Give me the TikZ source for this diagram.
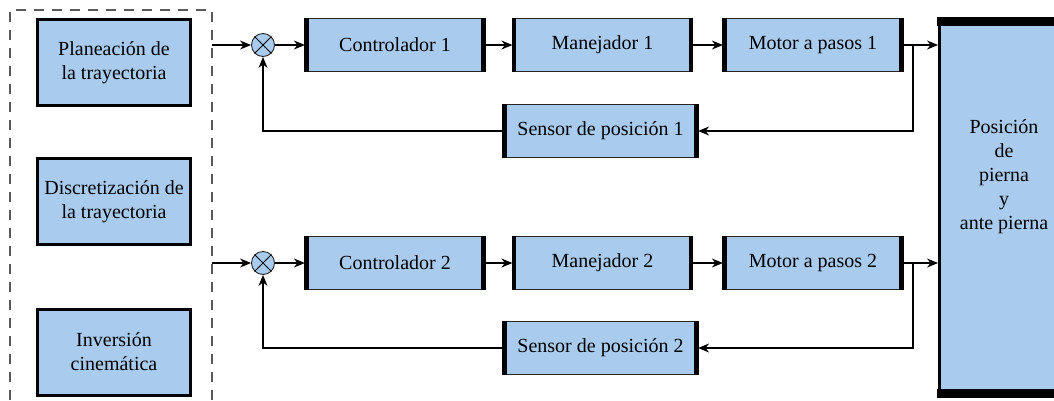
\documentclass[tikz,border=0pt]{standalone}
\usepackage{fontspec}
\setmainfont{Liberation Serif}
\usetikzlibrary{arrows.meta}
\definecolor{boxblue}{RGB}{169,203,238}
\begin{document}
\begin{tikzpicture}[x=1pt,y=-1pt,
  every node/.style={font=\fontsize{20}{24}\selectfont},
  blk/.style={draw=black!85, line width=1.2pt, fill=boxblue, minimum width=179pt, minimum height=53pt, inner sep=0pt},
  lblk/.style={draw=black, line width=3pt, fill=boxblue, minimum width=153pt, minimum height=86pt, align=center, inner sep=0pt},
  sumc/.style={circle, draw=black!85, line width=0.9pt, fill=boxblue, minimum size=23pt, inner sep=0pt},
  conn/.style={line width=1.1pt, draw=black},
  arr/.style={conn, -{Stealth[length=11pt,width=9pt]}},
  dashline/.style={draw=black!65, line width=1.1pt, dash pattern=on 10pt off 8pt},
  bar/.style={line width=4.5pt, draw=black}
]
\useasboundingbox (0,0) rectangle (1054,400);
\clip (0,0) rectangle (1054,400);

% dashed frame
\draw[dashline] (10,400) -- (10,10) -- (212,10) -- (212,400);

% left blocks
\node[lblk] (plan) at (114,62.5) {Planeación de\\la trayectoria};
\node[lblk] (disc) at (114,201.5) {Discretización de\\la trayectoria};
\node[lblk] (inv)  at (114,352) {Inversión\\cinemática};

% row 1
\node[sumc] (sum1) at (263,45) {};
\node[blk] (c1) at (395,45) {Controlador 1};
\node[blk] (m1) at (602.5,45) {Manejador 1};
\node[blk] (p1) at (813,45) {Motor a pasos 1};
\node[blk, minimum width=194pt] (s1) at (600.5,131) {Sensor de posición 1};

% row 2
\node[sumc] (sum2) at (263,263) {};
\node[blk] (c2) at (395,263) {Controlador 2};
\node[blk] (m2) at (602.5,263) {Manejador 2};
\node[blk] (p2) at (813,263) {Motor a pasos 2};
\node[blk, minimum width=194pt] (s2) at (600.5,348) {Sensor de posición 2};

% thick side bars
\foreach \n in {c1,m1,p1,s1,c2,m2,p2,s2}{
  \draw[bar] ([xshift=1.6pt]\n.north west) -- ([xshift=1.6pt]\n.south west);
  \draw[bar] ([xshift=-1.6pt]\n.north east) -- ([xshift=-1.6pt]\n.south east);
}

% summing crosses
\foreach \s in {sum1,sum2}{
  \draw[line width=0.8pt] (\s.45) -- (\s.225) (\s.135) -- (\s.315);
}

% output block
\node[draw=black, line width=3pt, fill=boxblue, minimum width=129pt, minimum height=375pt, inner sep=0pt] (pos) at (1004,207) {};
\fill[black] ([xshift=-1.5pt,yshift=1.5pt]pos.north west) rectangle ([xshift=1.5pt,yshift=-7.5pt]pos.north east);
\fill[black] ([xshift=-1.5pt,yshift=7.5pt]pos.south west) rectangle ([xshift=1.5pt,yshift=-1.5pt]pos.south east);
\node[align=center] (postxt) at (1004,177) {Posición\\de\\pierna\\y\\ante pierna};

% coordinates
\coordinate (in1) at (212,45);
\coordinate (in2) at (212,263);
\coordinate (br1) at (913,45);
\coordinate (br2) at (913,263);

% row 1 connectors
\draw[arr] (in1) -- (sum1);
\draw[arr] (sum1) -- (c1);
\draw[arr] (c1) -- (m1);
\draw[arr] (m1) -- (p1);
\draw[arr] (p1.east) -- (p1.east -| pos.west);
\draw[arr] (br1) |- (s1.east);
\draw[arr] (s1.west) -| (sum1.south);

% row 2 connectors
\draw[arr] (in2) -- (sum2);
\draw[arr] (sum2) -- (c2);
\draw[arr] (c2) -- (m2);
\draw[arr] (m2) -- (p2);
\draw[arr] (p2.east) -- (p2.east -| pos.west);
\draw[arr] (br2) |- (s2.east);
\draw[arr] (s2.west) -| (sum2.south);
\end{tikzpicture}
\end{document}
